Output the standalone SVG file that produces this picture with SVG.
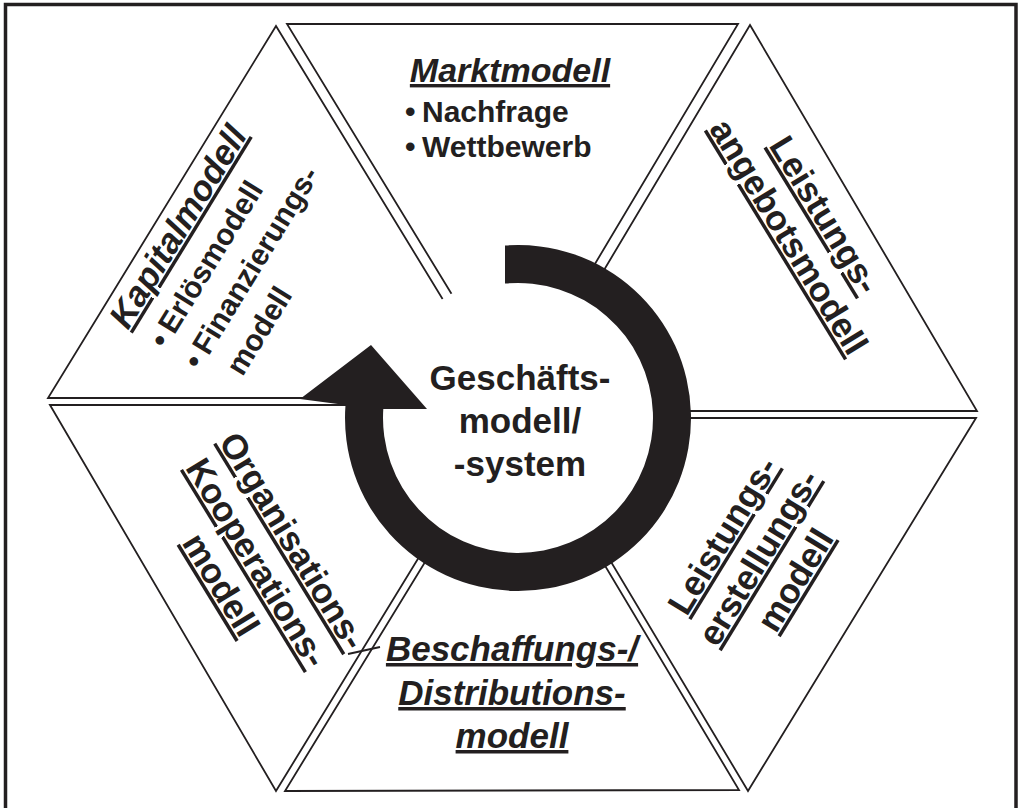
<svg xmlns="http://www.w3.org/2000/svg" width="1021" height="808" viewBox="0 0 1021 808">
  <style>
    .seg { fill: #ffffff; stroke: #231f20; stroke-width: 1.8; stroke-linejoin: miter; }
    .t { font-family: "Liberation Sans", Arial, Helvetica, sans-serif; font-weight: bold; fill: #231f20; }
    .h { font-size: 35px; }
    .i { font-style: italic; }
    .s { font-size: 30px; }
    .u { text-decoration: underline; }
    .mid { text-anchor: middle; }
  </style>

  <rect width="1021" height="808" fill="#ffffff"/>
  <!-- outer frame (open at the lower edge) -->
  <path d="M5.5,812 V4.5 H1016 V812" fill="none" stroke="#231f20" stroke-width="3.5"/>

  <!-- hexagon segments -->
  <g id="kapitalmodell">
    <polygon class="seg" points="276,26 48,398 503,398"/>
    <g transform="rotate(-58.5)">
      <text class="t h i u" x="-215" y="282">Kapitalmodell</text>
      <text class="t s" x="-212" y="324">•</text>
      <text class="t s" x="-195" y="324">Erlösmodell</text>
      <text class="t s" x="-212" y="364">•</text>
      <text class="t s" x="-195" y="364">Finanzierungs-</text>
      <text class="t s" x="-195" y="404">modell</text>
    </g>
  </g>

  <g id="marktmodell">
    <polygon class="seg" points="287,24 738,24 515,398"/>
    <text class="t i u mid" x="510" y="82" font-size="34">Marktmodell</text>
    <text class="t s" x="405" y="122">•</text>
    <text class="t s" x="422" y="122">Nachfrage</text>
    <text class="t s" x="405" y="157">•</text>
    <text class="t s" x="422" y="157">Wettbewerb</text>
  </g>

  <g id="leistungsangebotsmodell">
    <polygon class="seg" points="750,25 977,411 520,411"/>
    <g transform="rotate(58.5)">
      <text class="t h u mid" x="614" y="-579">Leistungs-</text>
      <text class="t h u mid" x="614" y="-537">angebotsmodell</text>
    </g>
  </g>

  <g id="leistungserstellungsmodell">
    <polygon class="seg" points="976,418 748,791 525,418"/>
    <g transform="rotate(-58.5)">
      <text class="t h u mid" x="-79" y="908">Leistungs-</text>
      <text class="t h u mid" x="-79" y="950">erstellungs-</text>
      <text class="t h u mid" x="-79" y="993">modell</text>
    </g>
  </g>

  <g id="beschaffungsmodell">
    <polygon class="seg" points="285,791 739,790 515,415"/>
    <text class="t h i u mid" x="512" y="661">Beschaffungs-/</text>
    <text class="t h i u mid" x="512" y="705">Distributions-</text>
    <text class="t h i u mid" x="512" y="748">modell</text>
  </g>

  <g id="organisationsmodell">
    <polygon class="seg" points="50,405 276,791 512,405"/>
    <g transform="rotate(58.5)">
      <text class="t h u mid" x="614" y="45">Organisations-</text>
      <text class="t h u mid" x="614" y="87">Kooperations-</text>
      <text class="t h u mid" x="614" y="129">modell</text>
    </g>
  </g>

  <!-- centre: white hub, circular arrow and leader tick -->
  <g id="connectors">
    <circle cx="518" cy="418" r="141" fill="#ffffff"/>
    <path d="M505,245.5 A173,173 0 1 1 345.5,405 L300,399 L371,345 L427,409 L383.3,409 A135,135 0 1 0 505,283.6 Z" fill="#231f20"/>
    <line x1="348" y1="654" x2="380" y2="647" stroke="#231f20" stroke-width="2"/>
  </g>

  <g id="geschaeftsmodell">
    <text class="t h mid" x="520" y="390">Geschäfts-</text>
    <text class="t h mid" x="520" y="433">modell/</text>
    <text class="t h mid" x="520" y="476">-system</text>
  </g>
</svg>
